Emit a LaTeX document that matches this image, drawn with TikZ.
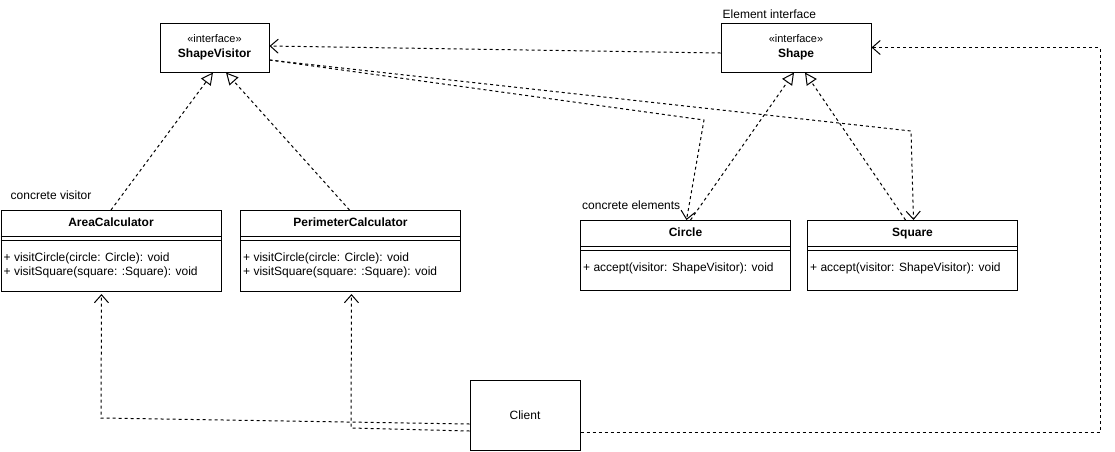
\documentclass[tikz,border=0pt]{standalone}
\usepackage{fontspec}
\setmainfont{Liberation Sans}
\usetikzlibrary{arrows.meta}

\begin{document}
\begin{tikzpicture}[x=1pt, y=-1pt, font=\fontsize{12}{14}\selectfont,
  every node/.style={inner sep=0pt},
  iface/.style={draw, line width=1pt, minimum height=49pt, align=center, font=\fontsize{12}{15}\selectfont},
  classbox/.style={draw, line width=1pt, anchor=north west},
  ctitle/.style={font=\fontsize{12}{14}\selectfont\bfseries, text height=8.6pt, text depth=2.6pt},
  ops/.style={anchor=west, align=left},
  real/.style={line width=1pt, dash pattern=on 3pt off 3pt, -{Triangle[open, length=12pt, width=12pt]}},
  dep/.style={line width=1pt, dash pattern=on 3pt off 3pt, -{Straight Barb[length=8pt, width=14pt]}}]
  \useasboundingbox (0,0) rectangle (1115,451);

  % Nodes
  \node[iface, minimum width=109pt] (sv) at (214.5,47.5) {{\fontsize{11}{15}\selectfont «interface»}\\\textbf{ShapeVisitor}};
  \node[iface, minimum width=150pt] (shape) at (796,47.5) {{\fontsize{11}{15}\selectfont «interface»}\\\textbf{Shape}};
  \node[classbox, minimum width=220pt, minimum height=81pt] (area) at (0.5,210) {};
  \node[classbox, minimum width=220pt, minimum height=81pt] (per) at (240,210) {};
  \node[classbox, minimum width=210pt, minimum height=70pt] (circle) at (580,220) {};
  \node[classbox, minimum width=210pt, minimum height=70pt] (square) at (807,220) {};
  \node[draw, line width=1pt, minimum width=110pt, minimum height=70pt] (client) at (525,415) {Client};

  % Class titles and operations
  \node[ctitle] (areatitle) at ([yshift=-13pt]area.north) {AreaCalculator};
  \node[ctitle] (pertitle) at ([yshift=-13pt]per.north) {PerimeterCalculator};
  \node[ctitle] (circletitle) at ([yshift=-13pt]circle.north) {Circle};
  \node[ctitle] (squaretitle) at ([yshift=-13pt]square.north) {Square};
  \draw[line width=1pt] ([yshift=-26pt]area.north west) -- ([yshift=-26pt]area.north east);
  \draw[line width=1pt] ([yshift=-30pt]area.north west) -- ([yshift=-30pt]area.north east);
  \draw[line width=1pt] ([yshift=-26pt]per.north west) -- ([yshift=-26pt]per.north east);
  \draw[line width=1pt] ([yshift=-30pt]per.north west) -- ([yshift=-30pt]per.north east);
  \draw[line width=1pt] ([yshift=-26pt]circle.north west) -- ([yshift=-26pt]circle.north east);
  \draw[line width=1pt] ([yshift=-30pt]circle.north west) -- ([yshift=-30pt]circle.north east);
  \draw[line width=1pt] ([yshift=-26pt]square.north west) -- ([yshift=-26pt]square.north east);
  \draw[line width=1pt] ([yshift=-30pt]square.north west) -- ([yshift=-30pt]square.north east);
  \node[ops] (areaops) at ([xshift=3pt,yshift=-55pt]area.north west) {+ visitCircle(circle: Circle): void\\+ visitSquare(square: :Square): void};
  \node[ops] (perops) at ([xshift=3pt,yshift=-55pt]per.north west) {+ visitCircle(circle: Circle): void\\+ visitSquare(square: :Square): void};
  \node[ops] (circleops) at ([xshift=3pt,yshift=-48pt]circle.north west) {+ accept(visitor: ShapeVisitor): void};
  \node[ops] (squareops) at ([xshift=3pt,yshift=-48pt]square.north west) {+ accept(visitor: ShapeVisitor): void};

  % Labels
  \node[anchor=west] (lblvisitor) at ([xshift=10pt,yshift=15pt]area.north west) {concrete visitor};
  \node[anchor=west] (lblelements) at ([xshift=2pt,yshift=15pt]circle.north west) {concrete elements};
  \node[anchor=west] (lblinterface) at ([xshift=2pt,yshift=8pt]shape.north west) {Element interface};

  % Realizations
  \draw[real] (area.north) -- ([xshift=-1.5pt]sv.south);
  \draw[real] ([xshift=-1pt]per.north) -- ([xshift=11.5pt]sv.south);
  \draw[real] ([xshift=5pt]circle.north) -- ([xshift=-2pt]shape.south);
  \draw[real] ([xshift=-7pt]square.north) -- ([xshift=9pt]shape.south);

  % Dependencies
  \coordinate (bendcircle) at (704,120);
  \coordinate (bendsquare) at (911,131);
  \coordinate (bendright) at (1100,432);
  \coordinate (bendarea) at (101,418);
  \coordinate (bendper) at (351,428);
  \draw[dep] ([yshift=-5.5pt]shape.west) -- ([yshift=1.5pt]sv.east);
  \draw[dep] ([yshift=-12.5pt]sv.east) -- (bendcircle) -- ([xshift=1pt]circle.north);
  \draw[dep] ([yshift=-12.5pt]sv.east) -- (bendsquare) -- ([xshift=1pt]square.north);
  \draw[dep] ([yshift=-17pt]client.east) -- (bendright) |- (shape.east);
  \draw[dep] ([yshift=-9pt]client.west) -- (bendarea) -- ([xshift=-9.5pt,yshift=-2pt]area.south);
  \draw[dep] ([yshift=-16pt]client.west) -- (bendper) -- ([xshift=1pt,yshift=-2pt]per.south);
\end{tikzpicture}
\end{document}
